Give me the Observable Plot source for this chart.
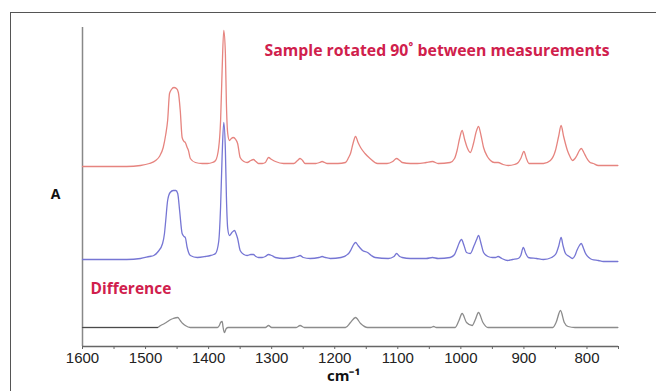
<!DOCTYPE html>
<html><head><meta charset="utf-8">
<script src="https://cdn.jsdelivr.net/npm/d3@7"></script>
<script src="https://cdn.jsdelivr.net/npm/@observablehq/plot@0.6"></script>
<style>
html,body{margin:0;padding:0;background:#fff;}
#wrap{position:relative;width:656px;height:391px;overflow:hidden;}
#box{position:absolute;left:10px;top:12px;width:700px;height:420px;border-left:1.3px solid #555;border-top:1.3px solid #555;pointer-events:none;}
#chart{position:absolute;left:0;top:0;}
</style></head><body>
<div id="wrap"><div id="chart"></div><div id="box"></div></div>
<script>
// wavenumber (cm-1), absorbance (arbitrary units, offset per trace)
const tickValues = d3.range(750, 1601, 50);
const title = "Sample rotated 90˚ between measurements";
const diffLabel = "Difference";
const yLabel = "A";
const xLabel = "cm⁻¹";

const spectrumRed = [[1600,180],[1560,180],[1530,180],[1508,181],[1494,183],[1484,186],[1478,190],[1472,199],[1468,212],[1465,226],[1462,253],[1459,257],[1455,259],[1451,258],[1448,254],[1445,236],[1442,209],[1439,205],[1437,204],[1434,199],[1432,196],[1429,188],[1421,184],[1410,183],[1402,183],[1394,184],[1389,186],[1384,199],[1381,226],[1378.6,276],[1376,316],[1373.4,293],[1371.8,243],[1369.7,213],[1367,206],[1364,208],[1361,209],[1357,207],[1354,203],[1350,189],[1344,185],[1339,184],[1333,186],[1329,187],[1325,185],[1321,183],[1315,183],[1310,184],[1305,189],[1300,187],[1294,185],[1281,183],[1265,183],[1259,186],[1255,188],[1251,186],[1247,183],[1230,183],[1224,184],[1220,185],[1216,184],[1212,183],[1195,183],[1183,184],[1178,189],[1175,193],[1171,203],[1167,210],[1163,204],[1159,199],[1152,193],[1144,188],[1132,183],[1117,183],[1108,185],[1102,188],[1097,186],[1093,184],[1080,183],[1069,183],[1055,184],[1045,185],[1036,183],[1017,184],[1010,188],[1006,196],[1002,208],[998,216],[994,207],[990,199],[985,194],[980,203],[976,214],[972,220],[968,211],[964,199],[958,190],[953,186],[947,184],[941,184],[933,182],[925,181],[915,182],[909,184],[905,188],[900,195],[896,188],[892,183],[880,183],[869,183],[858,186],[850,196],[845,210],[841,221],[837,210],[831,196],[827,190],[823,186],[819,188],[816,191],[812,196],[809,198],[805,194],[801,189],[795,184],[790,183],[782,181],[770,181],[751,181]];

const spectrumBlue = [[1600,87],[1560,87],[1530,87],[1508,88],[1494,90],[1487,91],[1480,95],[1473,103],[1470,113],[1468,126],[1465,146],[1461,154],[1456,156],[1452,156],[1449,153],[1446,136],[1442,113],[1439,110],[1437,109],[1434,99],[1429,91],[1418,89],[1405,90],[1397,91],[1392,92],[1389,93],[1384,105],[1381,140],[1378.6,190],[1376,224],[1373.4,196],[1371.8,150],[1369.7,118],[1367,111],[1363,114],[1359,116],[1356,112],[1354,108],[1350,96],[1344,92],[1339,91],[1333,92],[1329,92],[1325,90],[1321,89],[1315,89],[1310,90],[1305,92],[1300,91],[1294,89],[1281,88],[1265,89],[1259,90],[1255,91],[1250,89],[1239,88],[1225,89],[1220,90],[1215,89],[1207,88],[1190,89],[1178,93],[1174,97],[1170,102],[1167,104],[1163,101],[1159,98],[1156,96],[1148,94],[1142,91],[1136,89],[1115,88],[1106,90],[1102,93],[1097,90],[1093,89],[1080,88],[1069,88],[1055,88],[1045,89],[1036,88],[1017,89],[1010,92],[1006,98],[1003,103],[999,107],[995,101],[991,94],[985,93],[979,101],[975,107],[972,111],[968,103],[964,94],[957,90],[950,89],[945,89],[941,90],[935,88],[926,86],[918,87],[909,88],[905,91],[901,99],[897,93],[893,89],[880,88],[869,87],[856,89],[849,93],[845,100],[841,109],[838,101],[834,93],[828,90],[823,88],[819,91],[816,96],[812,101],[809,103],[806,99],[803,94],[797,89],[792,87],[782,86],[774,85],[760,85],[751,85]];

const spectrumDiff = [[1600,19],[1540,19],[1481,19],[1476,21],[1470,23],[1465,25],[1460,27],[1456,28],[1449,29],[1445,26],[1441,23],[1437,21],[1429,19],[1386,19],[1383,21],[1381,24],[1378.5,25],[1377,19],[1375,14],[1372,18],[1369,19],[1310,19],[1305,21],[1300,19],[1261,19],[1255,21],[1248,19],[1183,19],[1175,24],[1167,29],[1159,23],[1148,19],[1048,19],[1043,20],[1039,19],[1009,19],[1003,26],[998,33],[991,24],[982,21],[977,27],[972,34],[965,24],[957,19],[854,19],[849,24],[842,36],[836,24],[830,20],[819,19],[751,19]];

const X = d => d[0], Y = d => d[1];
const crimson = "#d0204c";

const chart = Plot.plot({
  width: 656, height: 391,
  marginLeft: 82, marginRight: 38, marginTop: 27, marginBottom: 45,
  style: {background: "transparent", fontFamily: "Liberation Sans, Arial, sans-serif"},
  x: {domain: [1600, 750]},
  y: {domain: [0, 319], axis: null},
  marks: [
    Plot.ruleX([1600], {y1: 0, y2: 319, stroke: "#888", strokeWidth: 1.5}),
    Plot.ruleY([0], {stroke: "#666", strokeWidth: 1.3}),
    Plot.axisX({ticks: tickValues, tickSize: 3, tickPadding: 3, stroke: "#666",
      tickFormat: d => d % 100 === 0 ? String(d) : "", fontSize: 15, fill: "#222", label: null}),
    Plot.line(spectrumDiff, {x: X, y: Y, stroke: "#8c8c8c", strokeWidth: 1.3, curve: "monotone-x"}),
    Plot.line(spectrumDiff.filter(d => d[0] >= 1480), {x: X, y: Y, stroke: "#4a4a4a", strokeWidth: 1.1, curve: "monotone-x"}),
    Plot.line(spectrumBlue, {x: X, y: Y, stroke: "#7676d4", strokeWidth: 1.3, curve: "monotone-x"}),
    Plot.line(spectrumRed, {x: X, y: Y, stroke: "#e6847f", strokeWidth: 1.3, curve: "monotone-x"}),
    Plot.text([title], {frameAnchor: "top-right", dx: -9, dy: 17, textAnchor: "end", fill: crimson,
      fontWeight: "bold", fontSize: 15.8, fontFamily: "Open Sans"}),
    Plot.text([diffLabel], {frameAnchor: "bottom-left", dx: 8, dy: -53, textAnchor: "start", fill: crimson,
      fontWeight: "bold", fontSize: 15.5, fontFamily: "Open Sans"}),
    Plot.text([yLabel], {frameAnchor: "left", dx: -27, dy: 8, textAnchor: "middle", fill: "#111",
      fontWeight: "bold", fontSize: 14, fontFamily: "Open Sans"}),
    Plot.text([xLabel], {frameAnchor: "bottom", dx: -7, dy: 34, textAnchor: "middle", fill: "#111",
      fontWeight: "bold", fontSize: 15, fontFamily: "Open Sans"})
  ]
});
document.getElementById("chart").appendChild(chart);
</script>
</body></html>
